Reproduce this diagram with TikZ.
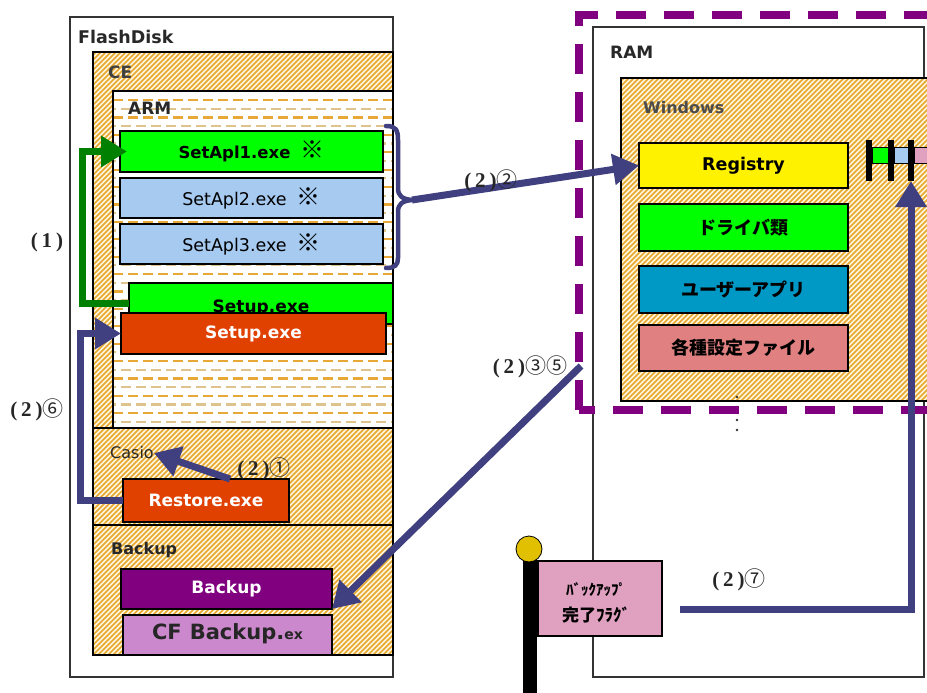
\documentclass[tikz,border=0pt]{standalone}
\usepackage{fontspec}
\setmainfont{DejaVu Sans}
\newfontfamily\cjk{Noto Sans CJK JP}
\newfontfamily\serifl{Liberation Serif}
\usetikzlibrary{arrows.meta,fit}
\definecolor{navy}{RGB}{64,64,128}
\definecolor{dgreen}{RGB}{0,128,0}
\definecolor{bgreen}{RGB}{0,255,0}
\definecolor{lblue}{RGB}{166,202,240}
\definecolor{redor}{RGB}{224,64,0}
\definecolor{purp}{RGB}{128,0,128}
\definecolor{cfc}{RGB}{204,136,204}
\definecolor{teal2}{RGB}{0,153,198}
\definecolor{salmon2}{RGB}{224,128,128}
\definecolor{flagpink}{RGB}{224,160,192}
\definecolor{flagy}{RGB}{224,192,0}
\definecolor{hatchc}{RGB}{230,168,46}
\definecolor{hatchbg}{RGB}{255,246,220}
\definecolor{dasha}{RGB}{232,168,56}
\definecolor{dashb}{RGB}{222,196,140}
\definecolor{txtg}{RGB}{40,40,40}
\newcommand\setfs[1]{\fontsize{#1}{#1}\selectfont}
\newcommand\paren[1]{{\serifl\setfs{21}\bfseries(\hspace{4pt}#1\hspace{4pt})}}
\newcommand\lab[2]{\paren{#1}{\cjk\setfs{21}#2}}
\begin{document}
\begin{tikzpicture}[x=1pt,y=-1pt,
  bx/.style={draw=black, line width=1.3pt, inner sep=0pt, outer sep=0pt},
  hl/.style={line width=1.7pt, draw=hatchc},
  narrow/.style={draw=navy, line width=7pt, -{Triangle[length=26pt,width=30pt]}},
  garrow/.style={draw=dgreen, line width=7pt, -{Triangle[length=26pt,width=30pt]}},
  lbl/.style={inner sep=0pt, anchor=west, text=txtg},
  steplab/.style={inner sep=0pt, text=black!85},
]
\useasboundingbox (0,0) rectangle (927,693);
\clip (0,0) rectangle (927,693);
\fill[white] (0,0) rectangle (927,693);

% ---------------- FlashDisk ----------------
\node[bx, draw=black!80, line width=1.2pt, fit={(70,17)(393,677)}] (flash) {};
\node[lbl] (flashlab) at (78,37) {\setfs{17.5}\bfseries FlashDisk};

\begin{scope}
  \clip (93,52) rectangle (393,655);
  \fill[hatchbg] (93,52) rectangle (393,655);
  \foreach \i in {0,5,...,910} \draw[hl] (93-605+\i,655) -- ++(610,-610);
\end{scope}
\node[bx, fit={(93,52)(393,428)}] (ce) {};
\node[bx, fit={(93,428)(393,525)}] (casiosec) {};
\node[bx, fit={(93,525)(393,655)}] (backupsec) {};
\node[lbl, text=black!75] (celab) at (108,72) {\setfs{17}\bfseries CE};

% ARM
\fill[white] (113,91) rectangle (393,428);
\begin{scope}
  \clip (113,91) rectangle (393,428);
  \foreach \k in {0,...,37}{
    \pgfmathsetmacro\yy{100+8.7*\k}
    \ifodd\k
      \draw[dashb, line width=2.2pt, dash pattern=on 10pt off 5pt, dash phase=7pt] (113,\yy) -- (393,\yy);
    \else
      \draw[dasha, line width=2.2pt, dash pattern=on 10pt off 5pt] (113,\yy) -- (393,\yy);
    \fi
  }
\end{scope}
\node[bx, fit={(113,91)(393,428)}] (arm) {};
\node[lbl] (armlab) at (128,108) {\setfs{17}\bfseries ARM};

\node[bx, fill=bgreen, fit={(120,131)(383,172)}] (s1) {};
\node at (s1.center) {\setfs{16.5}\bfseries SetApl1.exe\hspace{10pt}{\cjk\setfs{24}\bfseries ※}};
\node[bx, fill=lblue, fit={(120,178)(383,218)}] (s2) {};
\node at (s2.center) {\setfs{17.5}SetApl2.exe\hspace{10pt}{\cjk\setfs{24}※}};
\node[bx, fill=lblue, fit={(120,224)(383,264)}] (s3) {};
\node at (s3.center) {\setfs{17.5}SetApl3.exe\hspace{10pt}{\cjk\setfs{24}※}};

\node[bx, fill=bgreen, fit={(129,283)(393,324)}] (setupg) {};
\node at ([yshift=-4pt]setupg.center) {\setfs{17}\bfseries Setup.exe};
\node[bx, fill=redor, fit={(121,313)(386,354)}] (setupr) {};
\node[text=white] at (setupr.center) {\setfs{17}\bfseries Setup.exe};

% Casio
\node[lbl] (casio) at (110,453) {\setfs{16}Casio};
\node[bx, fill=redor, fit={(123,479)(289,522)}] (restore) {};
\node[text=white] at (restore.center) {\setfs{17}\bfseries Restore.exe};

% Backup
\node[lbl] (backuplab) at (111,550) {\setfs{16}\bfseries Backup};
\node[bx, fill=purp, fit={(121,569)(332,609)}] (bk) {};
\node[text=white] at (bk.center) {\setfs{17}\bfseries Backup};
\node[bx, fill=cfc, fit={(123,615)(332,655)}] (cf) {};
\node[text=black!85] at ([yshift=1pt]cf.center) {\setfs{21}\bfseries CF\hspace{8pt}Backup.{\setfs{14}ex}};

% ---------------- RAM ----------------
\node[bx, draw=black!80, line width=1.2pt, fit={(593,27)(924,677)}] (ram) {};
\node[lbl] (ramlab) at (610,52) {\setfs{17}\bfseries RAM};

\begin{scope}
  \clip (621,78) rectangle (927,401);
  \fill[hatchbg] (621,78) rectangle (927,401);
  \foreach \i in {0,5,...,640} \draw[hl] (621-325+\i,401) -- ++(330,-330);
\end{scope}
\node[bx, fit={(621,78)(945,401)}] (win) {};
\node[lbl, text=black!70] (winlab) at (643,108) {\setfs{16}\bfseries Windows};

\node[bx, fill=yellow, fit={(639,143)(848,188)}] (reg) {};
\node at (reg.center) {\setfs{17.5}\bfseries Registry};
\node[bx, fill=bgreen, fit={(639,204)(848,251)}] (drv) {};
\node at (drv.center) {\cjk\setfs{18}\bfseries ドライバ類};
\node[bx, fill=teal2, fit={(639,266)(848,313)}] (usr) {};
\node at (usr.center) {\cjk\setfs{18}\bfseries ユーザーアプリ};
\node[bx, fill=salmon2, fit={(639,325)(848,371)}] (cfg) {};
\node at (cfg.center) {\cjk\setfs{18}\bfseries 各種設定ファイル};

% small flags next to Registry
\node[bx, line width=0.6pt, fill=bgreen, fit={(872,147)(888,163)}] (sq1) {};
\node[bx, line width=0.6pt, fill=lblue, fit={(894,147)(908,163)}] (sq2) {};
\node[bx, line width=0.6pt, fill=flagpink, fit={(914,147)(935,163)}] (sq3) {};
\node[fill=black, inner sep=0pt, outer sep=0pt, fit={(866,140)(872,181)}] (bar1) {};
\node[fill=black, inner sep=0pt, outer sep=0pt, fit={(888,140)(894,181)}] (bar2) {};
\node[fill=black, inner sep=0pt, outer sep=0pt, fit={(908,140)(914,181)}] (bar3) {};

% dots
\foreach \yy in {397,407,420,430} \fill[black!80] (737,\yy) circle (1.3pt);

% purple dashed frame
\draw[purp, line width=8pt, dash pattern=on 30pt off 18pt] (579,410) -- (579,15) -- (960,15) -- (960,410) -- cycle;

% backup flag
\fill[black] (523,553) rectangle (537,700);
\filldraw[fill=flagy, draw=black, line width=0.8pt] (529,549) circle (13pt);
\node[bx, fill=flagpink, fit={(538,561)(662,636)}] (flag) {};
\node at (596,590) {\cjk\setfs{15}\bfseries ﾊﾞｯｸｱｯﾌﾟ};
\node at (596,615) {\cjk\setfs{17}\bfseries 完了ﾌﾗｸﾞ};

% ---------------- connectors ----------------
\draw[garrow] (setupg.west) -- ++(-47,0) |- ([xshift=7pt]s1.west);
\draw[narrow] (restore.west) -- ++(-43,0) |- (setupr.west);
\draw[narrow] ([xshift=24pt]restore.north) -- (casio.east);

\coordinate (bracetip) at (412,200);
\draw[navy, line width=4.5pt, line cap=round, line join=round]
  (386,126) .. controls (396,126) and (398,130) .. (398,140) -- (398,188)
  .. controls (398,196) and (402,199) .. (bracetip)
  .. controls (402,201) and (398,204) .. (398,212) -- (398,258)
  .. controls (398,265) and (395,268) .. (386,268);
\draw[narrow] (bracetip) -- (reg.west);

\coordinate (a35) at (581,366);
\draw[narrow] (a35) -- (bk.south east);

\coordinate (a7) at (680,609);
\draw[narrow] (a7) -| (bar3.south);

% step labels
\node[steplab] (l1) at (47,242) {\paren{1}};
\node[steplab] (l6) at (37,410) {\lab{2}{⑥}};
\node[steplab] (l2) at (491,181) {\lab{2}{②}};
\node[steplab] (l35) at (530,367) {\lab{2}{③⑤}};
\node[steplab] (l1b) at (264,469) {\lab{2}{①}};
\node[steplab] (l7) at (739,580) {\lab{2}{⑦}};
\end{tikzpicture}
\end{document}
